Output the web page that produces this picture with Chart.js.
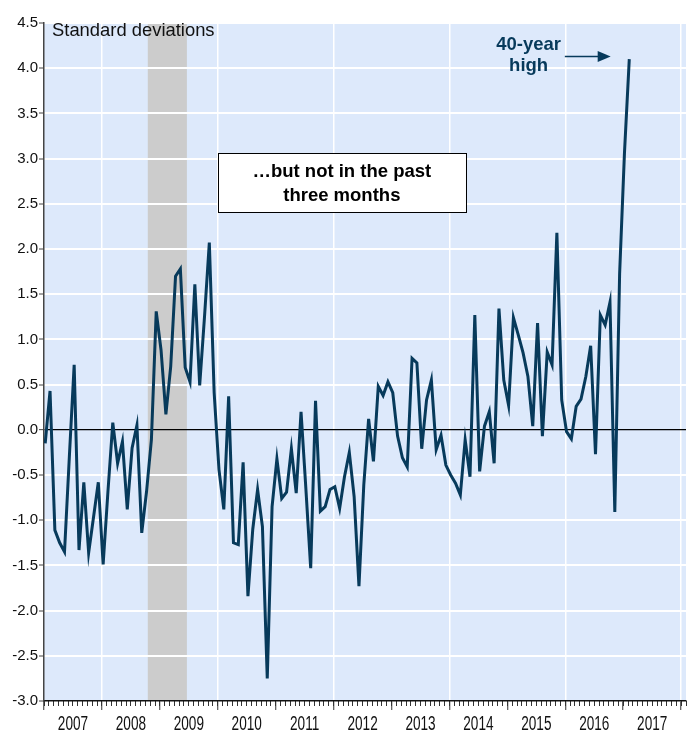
<!DOCTYPE html>
<html>
<head>
<meta charset="utf-8">
<script src="https://cdn.jsdelivr.net/npm/chart.js@4.4.1/dist/chart.umd.min.js"></script>
<style>
  html, body { margin: 0; padding: 0; background: #fff; }
</style>
</head>
<body>
<canvas id="chart" width="691" height="732"></canvas>
<script>
// Monthly readings, Jan 2007 .. Feb 2017 (standard deviations)
const values = [
  -0.15, 0.43, -1.11, -1.25, -1.35, -0.30, 0.72, -1.33, -0.58, -1.36, -0.97, -0.58,
  -1.49, -0.68, 0.08, -0.37, -0.13, -0.88, -0.20, 0.05, -1.14, -0.68, -0.11, 1.31,
  0.88, 0.17, 0.70, 1.70, 1.78, 0.69, 0.53, 1.61, 0.49, 1.25, 2.07, 0.41,
  -0.44, -0.88, 0.37, -1.25, -1.27, -0.36, -1.84, -1.10, -0.66, -1.07, -2.75, -0.85,
  -0.32, -0.76, -0.69, -0.21, -0.70, 0.20, -0.65, -1.53, 0.32, -0.90, -0.85, -0.66,
  -0.63, -0.87, -0.52, -0.25, -0.74, -1.73, -0.61, 0.12, -0.35, 0.48, 0.38, 0.53,
  0.41, -0.07, -0.31, -0.41, 0.79, 0.74, -0.21, 0.33, 0.55, -0.22, -0.06, -0.39,
  -0.50, -0.59, -0.72, -0.11, -0.52, 1.27, -0.46, 0.04, 0.20, -0.37, 1.34, 0.55,
  0.27, 1.24, 1.05, 0.85, 0.59, 0.04, 1.18, -0.07, 0.86, 0.72, 2.18, 0.33,
  -0.02, -0.10, 0.26, 0.34, 0.59, 0.93, -0.27, 1.27, 1.16, 1.41, -0.91, 1.73,
  3.06, 4.10
];
const yearLabels = ['2007', '2008', '2009', '2010', '2011', '2012', '2013', '2014', '2015', '2016', '2017'];
const recession = [21.5, 29.6]; // months since Jan 2007
const boxLines = ['\u2026but not in the past', 'three months'];
const highLines = ['40-year', 'high'];

const navy = '#073a5b';

const backdrop = {
  id: 'backdrop',
  beforeDraw(chart) {
    const { ctx, chartArea: a, scales: { x } } = chart;
    ctx.save();
    ctx.fillStyle = '#dde9fb';
    ctx.fillRect(a.left, a.top, a.right - a.left, a.bottom - a.top);
    const x0 = x.getPixelForValue(recession[0]);
    const x1 = x.getPixelForValue(recession[1]);
    ctx.fillStyle = '#cccccc';
    ctx.fillRect(x0, a.top, x1 - x0, a.bottom - a.top);
    ctx.restore();
  }
};

// year labels sit between the year ticks, in a condensed face
const yearText = {
  id: 'yearText',
  afterDraw(chart) {
    const { ctx, chartArea: a, scales: { x } } = chart;
    ctx.save();
    ctx.fillStyle = '#111';
    ctx.font = '20px "Liberation Sans", Arial, sans-serif';
    ctx.textAlign = 'center';
    ctx.textBaseline = 'middle';
    const sx = 0.68;
    yearLabels.forEach((lab, k) => {
      const px = x.getPixelForValue(k * 12 + 6);
      ctx.setTransform(sx, 0, 0, 1, px * (1 - sx), 0);
      ctx.fillText(lab, px, a.bottom + 23);
    });
    ctx.restore();
  }
};

const notes = {
  id: 'notes',
  afterDatasetsDraw(chart) {
    const { ctx, chartArea: a, scales: { x, y } } = chart;
    ctx.save();
    // unit label
    ctx.fillStyle = '#111';
    ctx.font = '18.4px "Liberation Sans", Arial, sans-serif';
    ctx.textBaseline = 'middle';
    ctx.textAlign = 'left';
    ctx.fillText('Standard deviations', a.left + 8, y.getPixelForValue(4.41));

    // boxed comment
    const bx0 = x.getPixelForValue(36), bx1 = x.getPixelForValue(87.4);
    const by0 = y.getPixelForValue(3.06), by1 = y.getPixelForValue(2.41);
    ctx.fillStyle = '#fff';
    ctx.fillRect(bx0, by0, bx1 - bx0, by1 - by0);
    ctx.strokeStyle = '#000';
    ctx.lineWidth = 1;
    ctx.strokeRect(Math.round(bx0) + 0.5, Math.round(by0) + 0.5, Math.round(bx1 - bx0), Math.round(by1 - by0));
    ctx.fillStyle = '#000';
    ctx.font = 'bold 18.5px "Liberation Sans", Arial, sans-serif';
    ctx.textAlign = 'center';
    const cx = (bx0 + bx1) / 2;
    ctx.fillText(boxLines[0], cx, y.getPixelForValue(2.85));
    ctx.fillText(boxLines[1], cx, y.getPixelForValue(2.59));

    // 40-year high with arrow
    ctx.fillStyle = navy;
    const hx = x.getPixelForValue(100.4);
    ctx.fillText(highLines[0], hx, y.getPixelForValue(4.26));
    ctx.fillText(highLines[1], hx, y.getPixelForValue(4.02));
    const ax0 = x.getPixelForValue(107.9), ax1 = x.getPixelForValue(117.4);
    const ay = y.getPixelForValue(4.13);
    ctx.strokeStyle = navy;
    ctx.lineWidth = 1.5;
    ctx.beginPath();
    ctx.moveTo(ax0, ay);
    ctx.lineTo(ax1 - 12, ay);
    ctx.stroke();
    ctx.beginPath();
    ctx.moveTo(ax1, ay);
    ctx.lineTo(ax1 - 13, ay - 5.5);
    ctx.lineTo(ax1 - 13, ay + 5.5);
    ctx.closePath();
    ctx.fill();
    ctx.restore();
  }
};

new Chart(document.getElementById('chart'), {
  type: 'line',
  data: {
    datasets: [{
      data: values.map((v, i) => ({ x: i + 0.25, y: v })),
      borderColor: navy,
      borderWidth: 3,
      pointRadius: 0,
      tension: 0,
      fill: false
    }]
  },
  options: {
    responsive: false,
    animation: false,
    layout: { padding: { top: 23, right: 5, left: 0, bottom: 0 } },
    plugins: { legend: { display: false }, tooltip: { enabled: false } },
    scales: {
      x: {
        type: 'linear',
        position: 'bottom',
        min: 0,
        max: 133,
        afterFit: s => { s.height = 31; },
        border: { display: true, color: '#111', width: 1.5 },
        grid: {
          color: c => (c.tick && c.tick.value % 24 === 12) ? '#ffffff' : 'rgba(0,0,0,0)',
          lineWidth: 1.5,
          tickColor: '#333',
          tickLength: 9,
          tickWidth: 1
        },
        ticks: {
          display: false,
          stepSize: 12,
          includeBounds: false,
          autoSkip: false
        }
      },
      xMinor: {
        type: 'linear',
        position: { y: -3 },
        min: 0,
        max: 133,
        afterFit: s => { s.height = 0; },
        border: { display: false },
        grid: {
          drawOnChartArea: false,
          tickColor: '#333',
          tickLength: 5,
          tickWidth: 1
        },
        ticks: { display: false, stepSize: 1, includeBounds: false, autoSkip: false }
      },
      y: {
        min: -3,
        max: 4.5,
        afterFit: s => { s.width = 44; },
        border: { display: true, color: '#444', width: 1.5 },
        grid: {
          color: c => {
            const v = c.tick ? c.tick.value : null;
            if (v === 0) return '#000';
            if (v === -3) return 'rgba(0,0,0,0)';
            return '#ffffff';
          },
          lineWidth: c => (c.tick && c.tick.value === 0) ? 1.3 : 2,
          tickColor: '#444',
          tickLength: 5,
          tickWidth: 1
        },
        ticks: {
          stepSize: 0.5,
          padding: 1,
          color: '#111',
          font: { family: '"Liberation Sans", Arial, sans-serif', size: 15 },
          callback: v => v.toFixed(1)
        }
      }
    }
  },
  plugins: [backdrop, yearText, notes]
});
</script>
</body>
</html>
